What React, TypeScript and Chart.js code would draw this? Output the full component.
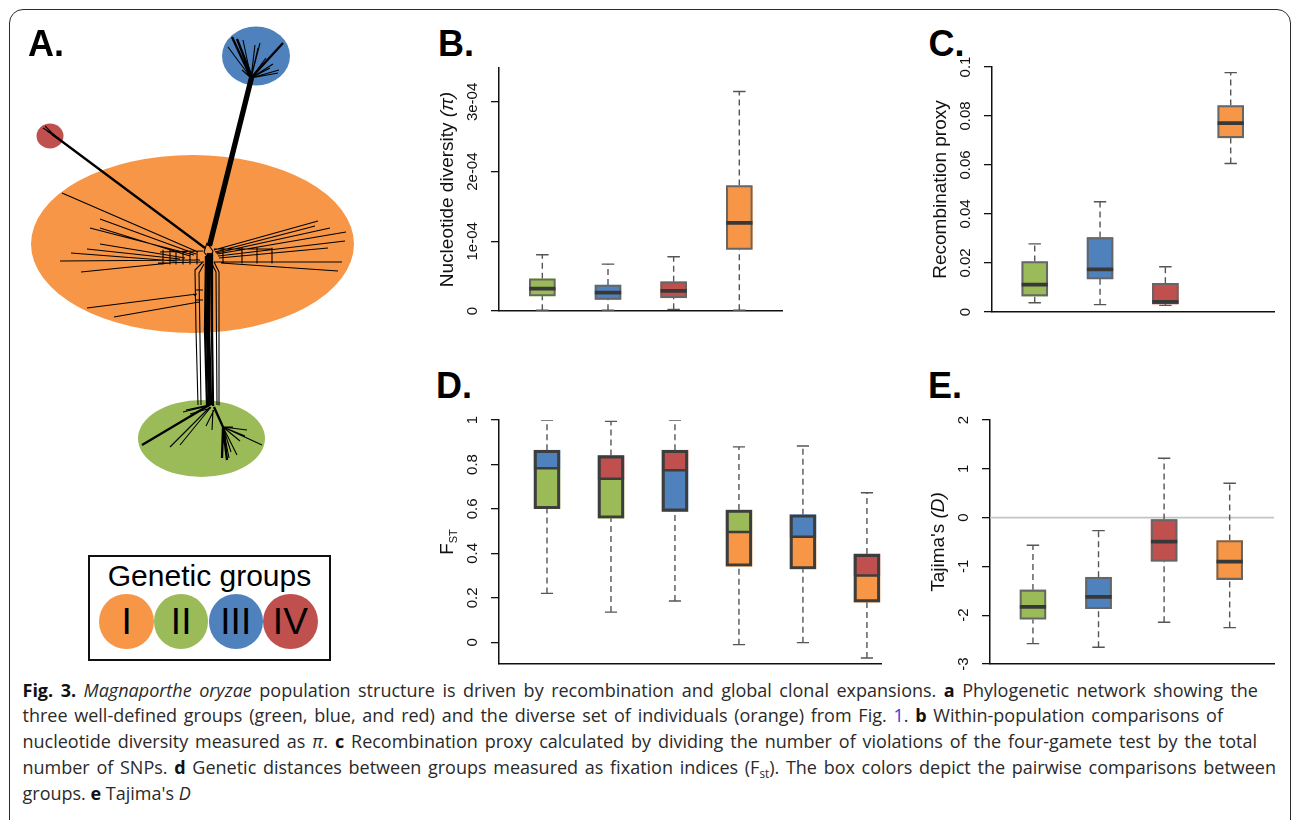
import React, { useEffect, useLayoutEffect, useRef } from 'react';
import { Chart, registerables } from 'chart.js';

Chart.register(...registerables);

const SANS = '"Liberation Sans", Arial, Helvetica, sans-serif';
const CAPTION_FONT = '"Open Sans", "Noto Sans", sans-serif';
const AXIS_INK = '#111111';

const ORANGE = '#F79646';
const GREEN = '#9BBB59';
const BLUE = '#4F81BD';
const RED = '#C0504D';

// ---------- Panel B: nucleotide diversity (pi) ----------
const PI_COLORS = [GREEN, BLUE, RED, ORANGE];
const PI_LOW = [1e-6, 1e-6, 2.4e-6, 1e-6];
const PI_Q1 = [2.15e-5, 1.67e-5, 1.9e-5, 8.83e-5];
const PI_MED = [3.2e-5, 2.63e-5, 2.9e-5, 1.265e-4];
const PI_Q3 = [4.63e-5, 3.72e-5, 4.2e-5, 1.8e-4];
const PI_HIGH = [8.07e-5, 6.73e-5, 7.78e-5, 3.15e-4];
const PI_TICKS = [0, 1e-4, 2e-4, 3e-4];
const PI_TICK_LABELS = ['0', '1e-04', '2e-04', '3e-04'];
const PI_Y_RANGE: [number, number] = [0, 3.487e-4];

// ---------- Panel C: recombination proxy ----------
const REC_COLORS = [GREEN, BLUE, RED, ORANGE];
const REC_LOW = [0.0038, 0.003, 0.0027, 0.0606];
const REC_Q1 = [0.0065, 0.0135, 0.0033, 0.0711];
const REC_MED = [0.0112, 0.0174, 0.0041, 0.0771];
const REC_Q3 = [0.0206, 0.0304, 0.0117, 0.0843];
const REC_HIGH = [0.0278, 0.045, 0.0185, 0.0977];
const REC_TICKS = [0, 0.02, 0.04, 0.06, 0.08, 0.1];
const REC_TICK_LABELS = ['0', '0.02', '0.04', '0.06', '0.08', '0.1'];
const REC_Y_RANGE: [number, number] = [0, 0.1];

// ---------- Panel D: FST pairwise ----------
const FST_LOWER_COLORS = [GREEN, GREEN, BLUE, ORANGE, ORANGE, ORANGE];
const FST_UPPER_COLORS = [BLUE, RED, RED, GREEN, BLUE, RED];
const FST_LOW = [0.22, 0.136, 0.186, -0.0105, -0.0015, -0.0705];
const FST_Q1 = [0.601, 0.558, 0.589, 0.342, 0.33, 0.181];
const FST_MED = [0.783, 0.736, 0.774, 0.496, 0.475, 0.301];
const FST_Q3 = [0.864, 0.84, 0.864, 0.595, 0.574, 0.397];
const FST_HIGH = [1.0, 0.994, 1.0, 0.879, 0.883, 0.673];
const FST_TICKS = [0, 0.2, 0.4, 0.6, 0.8, 1];
const FST_TICK_LABELS = ['0', '0.2', '0.4', '0.6', '0.8', '1'];
const FST_Y_RANGE: [number, number] = [-0.0975, 1.0];

// ---------- Panel E: Tajima's D ----------
const TAJ_COLORS = [GREEN, BLUE, RED, ORANGE];
const TAJ_LOW = [-2.582, -2.657, -2.145, -2.254];
const TAJ_Q1 = [-2.083, -1.865, -0.895, -1.27];
const TAJ_MED = [-1.83, -1.626, -0.492, -0.902];
const TAJ_Q3 = [-1.482, -1.223, -0.041, -0.471];
const TAJ_HIGH = [-0.567, -0.266, 1.216, 0.704];
const TAJ_TICKS = [-3, -2, -1, 0, 1, 2];
const TAJ_TICK_LABELS = ['-3', '-2', '-1', '0', '1', '2'];
const TAJ_Y_RANGE: [number, number] = [-3, 2];

// ---------- Panel A: network (layout units) ----------
const NET_X_RANGE: [number, number] = [12, 402];
const NET_Y_RANGE: [number, number] = [12, 512];
const NET_ELLIPSES = [
  { cx: 192.5, cy: 244, rx: 161.5, ry: 89, color: ORANGE },
  { cx: 256, cy: 56, rx: 34, ry: 29.5, color: BLUE },
  { cx: 50, cy: 136, rx: 13.5, ry: 12.5, color: RED },
  { cx: 201.5, cy: 438.5, rx: 63.5, ry: 38.5, color: GREEN },
];
const NET_TRUNK_LINES = [
  [[209, 253], [208, 330], [210, 405]],
  [[209, 246], [251, 78]],
];
const NET_MAIN_LINES = [
  [[205, 248], [52, 134]],
  [[212, 254], [212, 330], [213, 406]],
  [[206, 256], [205, 330], [207, 405]],
  [[211, 404], [142, 445]],
  [[214, 407], [223, 427], [222, 458]],
  [[223, 427], [227, 460]],
  [[251, 78], [232, 37]],
  [[251, 78], [283, 43]],
  [[252, 77], [237, 39]],
  [[211, 246], [253, 78]],
];
const NET_BRANCH_LINES = [
  [[251, 78], [228, 47]], [[251, 78], [243, 40]], [[251, 78], [260, 43]], [[251, 78], [258, 48]],
  [[251, 78], [279, 70]], [[251, 78], [278, 73]], [[251, 78], [270, 68]], [[251, 78], [263, 63]],
  [[251, 78], [242, 70]], [[251, 78], [266, 58]], [[251, 78], [273, 64]], [[251, 78], [255, 45]],
  [[54, 135], [43, 128]], [[54, 135], [45, 126]], [[56, 137], [47, 131]],
  [[198, 252], [62, 193]], [[196, 254], [100, 219]], [[194, 255], [90, 228]], [[190, 256], [100, 228]],
  [[185, 258], [100, 244]], [[180, 259], [87, 249]], [[175, 261], [71, 253]], [[200, 260], [60, 261]],
  [[170, 263], [81, 272]], [[197, 294], [87, 308]], [[199, 302], [114, 317]],
  [[160, 252], [203, 251]], [[158, 263], [204, 262]], [[163, 250], [163, 264]], [[170, 250], [170, 264]],
  [[176, 251], [176, 264]], [[183, 251], [183, 264]], [[190, 251], [190, 264]], [[197, 251], [197, 264]],
  [[214, 250], [318, 221]], [[215, 252], [315, 226]], [[216, 253], [330, 228]], [[217, 254], [346, 232]],
  [[218, 256], [345, 241]], [[219, 258], [328, 248]], [[220, 262], [342, 262]], [[221, 263], [338, 271]],
  [[214, 249], [272, 249]], [[214, 262], [290, 262]], [[223, 248], [223, 263]], [[242, 248], [242, 263]],
  [[257, 248], [257, 263]], [[272, 248], [272, 263]],
  [[204, 252], [207, 243], [213, 251], [210, 260], [204, 252]],
  [[203, 262], [195, 270], [196, 330], [198, 405]],
  [[204, 264], [199, 273], [201, 405]],
  [[214, 262], [219, 272], [219, 405]],
  [[212, 264], [216, 272], [217, 405]],
  [[196, 290], [203, 290]], [[195, 300], [203, 300]], [[196, 296], [193, 294]],
  [[210, 407], [170, 447]], [[211, 407], [180, 445]], [[208, 406], [183, 412]], [[209, 405], [186, 410]],
  [[211, 408], [190, 414]], [[213, 410], [212, 430]], [[214, 410], [206, 426]],
  [[223, 427], [237, 455]], [[223, 427], [247, 430]], [[223, 427], [245, 436]], [[223, 427], [262, 445]],
  [[223, 427], [233, 427]], [[223, 427], [240, 441]], [[223, 427], [231, 452]], [[223, 427], [229, 458]],
];

const GROUP_LABELS = ['I', 'II', 'III', 'IV'];
const GROUP_COLORS = [ORANGE, GREEN, BLUE, RED];

const PANEL_LABELS = [
  { t: 'A.', x: 28, y: 56 },
  { t: 'B.', x: 438, y: 56.7 },
  { t: 'C.', x: 928.5, y: 56.7 },
  { t: 'D.', x: 436, y: 398 },
  { t: 'E.', x: 928, y: 398 },
];

type Seg = { t: string; b?: boolean; i?: boolean; sub?: boolean; link?: boolean };
const CAPTION_LINES: Seg[][] = [
  [{ t: 'Fig. 3.', b: true }, { t: ' ' }, { t: 'Magnaporthe oryzae', i: true }, { t: ' population structure is driven by recombination and global clonal expansions. ' }, { t: 'a', b: true }, { t: ' Phylogenetic network showing the' }],
  [{ t: 'three well-defined groups (green, blue, and red) and the diverse set of individuals (orange) from Fig. ' }, { t: '1', link: true }, { t: '. ' }, { t: 'b', b: true }, { t: ' Within-population comparisons of' }],
  [{ t: 'nucleotide diversity measured as ' }, { t: 'π', i: true }, { t: '. ' }, { t: 'c', b: true }, { t: ' Recombination proxy calculated by dividing the number of violations of the four-gamete test by the total' }],
  [{ t: 'number of SNPs. ' }, { t: 'd', b: true }, { t: ' Genetic distances between groups measured as fixation indices (F' }, { t: 'st', sub: true }, { t: '). The box colors depict the pairwise comparisons between' }],
  [{ t: 'groups. ' }, { t: 'e', b: true }, { t: " Tajima's " }, { t: 'D', i: true }],
];
const CAPTION_LEFT = 22.5;
const CAPTION_RIGHT: (number | null)[] = [1258, 1223, 1257, 1276, null];
const CAPTION_BASELINES = [696.7, 722.3, 748.3, 774.3, 800];
const CAPTION_SIZE = 18;

type TitleSeg = { t: string; it?: boolean; sub?: boolean };

type Area = { left: number; top: number; right: number; bottom: number };

type BoxPanelProps = {
  area: Area;
  xRange: [number, number];
  yRange: [number, number];
  low: number[]; q1: number[]; med: number[]; q3: number[]; high: number[];
  lowerColors: string[]; upperColors: string[];
  ticks: number[]; tickLabels: string[];
  title: TitleSeg[];
  heavy?: boolean;
  zeroLine?: boolean;
};

const GAP = { x: NaN, y: NaN };
const PAD_L = 80, AXIS_W = 10, PAD_R = 10, PAD_T = 10, PAD_B = 10;

function BoxPanel(p: BoxPanelProps) {
  const ref = useRef<HTMLCanvasElement>(null);
  const cLeft = p.area.left - PAD_L - AXIS_W;
  const cTop = p.area.top - PAD_T;
  const cW = p.area.right - cLeft + PAD_R;
  const cH = p.area.bottom - cTop + PAD_B;

  useEffect(() => {
    if (!ref.current) return;
    const pos = p.low.map((_, i) => i + 1);
    const halfBox = 0.2;
    const capHalf = 0.095;
    const outline = p.heavy ? '#3d3d3d' : '#666666';
    const outlineW = p.heavy ? 2.5 : 1.4;

    const whiskers: any[] = [];
    const caps: any[] = [];
    const medians: any[] = [];
    pos.forEach((x, i) => {
      whiskers.push({ x, y: p.q3[i] }, { x, y: p.high[i] }, GAP, { x, y: p.low[i] }, { x, y: p.q1[i] }, GAP);
      caps.push({ x: x - capHalf, y: p.high[i] }, { x: x + capHalf, y: p.high[i] }, GAP,
        { x: x - capHalf, y: p.low[i] }, { x: x + capHalf, y: p.low[i] }, GAP);
      medians.push({ x: x - halfBox, y: p.med[i] }, { x: x + halfBox, y: p.med[i] }, GAP);
    });

    const datasets: any[] = [
      { type: 'line', data: whiskers, borderColor: '#555555', borderWidth: 1.4, borderDash: [6, 4], pointRadius: 0, spanGaps: false, order: 8 },
      { type: 'line', data: caps, borderColor: '#555555', borderWidth: 1.4, pointRadius: 0, spanGaps: false, order: 7 },
      { type: 'bar', data: pos.map((x, i) => ({ x, y: [p.q1[i], p.med[i]] })), backgroundColor: p.lowerColors, borderWidth: 0, barThickness: 26, grouped: false, order: 5 },
      { type: 'bar', data: pos.map((x, i) => ({ x, y: [p.med[i], p.q3[i]] })), backgroundColor: p.upperColors, borderWidth: 0, barThickness: 26, grouped: false, order: 4 },
      { type: 'bar', data: pos.map((x, i) => ({ x, y: [p.q1[i], p.q3[i]] })), backgroundColor: 'rgba(0,0,0,0)', borderColor: outline, borderWidth: outlineW, borderSkipped: false, barThickness: 26, grouped: false, order: 3 },
      { type: 'line', data: medians, borderColor: p.heavy ? '#3d3d3d' : '#383838', borderWidth: p.heavy ? 2.5 : 3.8, borderCapStyle: 'butt', pointRadius: 0, spanGaps: false, order: 1 },
    ];
    if (p.zeroLine) {
      datasets.push({ type: 'line', data: [{ x: p.xRange[0], y: 0 }, { x: p.xRange[1], y: 0 }], borderColor: '#c4c4c4', borderWidth: 1.6, pointRadius: 0, order: 9 });
    }

    const labelPlugin = {
      id: 'axisText',
      afterDraw(chart: any) {
        const { ctx, chartArea, scales } = chart;
        const y = scales.y;
        ctx.save();
        ctx.fillStyle = AXIS_INK;
        ctx.textAlign = 'center';
        ctx.textBaseline = 'alphabetic';
        ctx.font = `15px ${SANS}`;
        p.ticks.forEach((v, i) => {
          ctx.save();
          ctx.translate(chartArea.left - 22, y.getPixelForValue(v));
          ctx.rotate(-Math.PI / 2);
          ctx.fillText(p.tickLabels[i], 0, 0);
          ctx.restore();
        });
        const fontFor = (s: TitleSeg) => `${s.it ? 'italic ' : ''}${s.sub ? 11 : 19}px ${SANS}`;
        let total = 0;
        const widths = p.title.map((s) => {
          ctx.font = fontFor(s);
          const w = ctx.measureText(s.t).width;
          total += w;
          return w;
        });
        ctx.translate(chartArea.left - 46, (chartArea.top + chartArea.bottom) / 2);
        ctx.rotate(-Math.PI / 2);
        ctx.textAlign = 'left';
        let px = -total / 2;
        p.title.forEach((s, i) => {
          ctx.font = fontFor(s);
          ctx.fillText(s.t, px, s.sub ? 4 : 0);
          px += widths[i];
        });
        ctx.restore();
      },
    };

    const chart = new Chart(ref.current, {
      type: 'bar',
      data: { datasets },
      options: {
        responsive: false,
        animation: false,
        events: [],
        layout: { padding: { left: PAD_L, right: PAD_R, top: PAD_T, bottom: PAD_B } },
        plugins: { legend: { display: false }, tooltip: { enabled: false }, title: { display: false } },
        scales: {
          x: {
            type: 'linear', min: p.xRange[0], max: p.xRange[1], offset: false,
            grid: { display: false, drawTicks: false },
            ticks: { display: false },
            border: { display: true, color: AXIS_INK, width: 1.5 },
            afterFit: (s: any) => { s.height = 0; },
          },
          y: {
            type: 'linear', min: p.yRange[0], max: p.yRange[1],
            grid: { display: true, drawOnChartArea: false, drawTicks: true, tickLength: 8, color: AXIS_INK, lineWidth: 1.3 },
            ticks: { display: false },
            border: { display: true, color: AXIS_INK, width: 1.5 },
            afterBuildTicks: (s: any) => { s.ticks = p.ticks.map((v) => ({ value: v })); },
            afterFit: (s: any) => { s.width = AXIS_W; },
          },
        },
      } as any,
      plugins: [labelPlugin],
    } as any);
    return () => chart.destroy();
  }, []);

  return (
    <canvas ref={ref} width={cW} height={cH}
      style={{ position: 'absolute', left: cLeft, top: cTop, width: cW, height: cH }} />
  );
}

function NetworkPanel() {
  const ref = useRef<HTMLCanvasElement>(null);
  const left = NET_X_RANGE[0], top = NET_Y_RANGE[0];
  const w = NET_X_RANGE[1] - NET_X_RANGE[0];
  const h = NET_Y_RANGE[1] - NET_Y_RANGE[0];
  useEffect(() => {
    if (!ref.current) return;
    const toPts = (lines: number[][][]) => {
      const pts: any[] = [];
      lines.forEach((l) => { l.forEach(([x, y]) => pts.push({ x, y })); pts.push(GAP); });
      return pts;
    };
    const ellipsePlugin = {
      id: 'groupEllipses',
      beforeDatasetsDraw(chart: any) {
        const { ctx, scales } = chart;
        const xs = scales.x, ys = scales.y;
        ctx.save();
        NET_ELLIPSES.forEach((e) => {
          const cx = xs.getPixelForValue(e.cx), cy = ys.getPixelForValue(e.cy);
          const rx = Math.abs(xs.getPixelForValue(e.cx + e.rx) - cx);
          const ry = Math.abs(ys.getPixelForValue(e.cy + e.ry) - cy);
          ctx.beginPath();
          ctx.ellipse(cx, cy, rx, ry, 0, 0, Math.PI * 2);
          ctx.fillStyle = e.color;
          ctx.fill();
        });
        ctx.restore();
      },
    };
    const lineDs = (lines: number[][][], width: number) => ({
      data: toPts(lines), borderColor: '#000', borderWidth: width, pointRadius: 0,
      spanGaps: false, tension: 0, borderJoinStyle: 'round', borderCapStyle: 'butt',
    });
    const chart = new Chart(ref.current, {
      type: 'line',
      data: { datasets: [lineDs(NET_BRANCH_LINES, 1.1), lineDs(NET_MAIN_LINES, 2.3), lineDs(NET_TRUNK_LINES, 4.5)] },
      options: {
        responsive: false,
        animation: false,
        events: [],
        layout: { padding: 0 },
        plugins: { legend: { display: false }, tooltip: { enabled: false } },
        scales: {
          x: { type: 'linear', display: false, min: NET_X_RANGE[0], max: NET_X_RANGE[1] },
          y: { type: 'linear', display: false, min: NET_Y_RANGE[0], max: NET_Y_RANGE[1], reverse: true },
        },
      } as any,
      plugins: [ellipsePlugin],
    } as any);
    return () => chart.destroy();
  }, []);
  return <canvas ref={ref} width={w} height={h} style={{ position: 'absolute', left, top, width: w, height: h }} />;
}

function GroupLegend() {
  return (
    <>
      <div style={{ position: 'absolute', left: 88, top: 555, width: 243, height: 106, border: '2px solid #111', boxSizing: 'border-box' }} />
      <div style={{ position: 'absolute', left: 88, top: 586.7 - 0.8465 * 30, width: 243, textAlign: 'center', font: `30px ${SANS}`, lineHeight: '30px', color: '#000' }}>Genetic groups</div>
      {GROUP_LABELS.map((g, k) => (
        <div key={g} style={{
          position: 'absolute', left: 99.3 + 54.6 * k, top: 594, width: 54.5, height: 55, borderRadius: '50%',
          background: GROUP_COLORS[k], display: 'flex', alignItems: 'center', justifyContent: 'center',
          font: `37px ${SANS}`, lineHeight: '37px', color: '#000',
        }}>{g}</div>
      ))}
    </>
  );
}

function Caption() {
  const refs = useRef<(HTMLSpanElement | null)[]>([]);
  useLayoutEffect(() => {
    CAPTION_LINES.forEach((_, i) => {
      const el = refs.current[i];
      const right = CAPTION_RIGHT[i];
      if (!el || right == null) return;
      el.style.wordSpacing = '0px';
      const w = el.getBoundingClientRect().width;
      const spaces = (el.textContent || '').split(' ').length - 1;
      if (spaces > 0) el.style.wordSpacing = `${(right - CAPTION_LEFT - w) / spaces}px`;
    });
  }, []);
  return (
    <>
      {CAPTION_LINES.map((segs, i) => (
        <span key={i} ref={(el) => { refs.current[i] = el; }} style={{
          position: 'absolute', left: CAPTION_LEFT, top: CAPTION_BASELINES[i] - 0.888 * CAPTION_SIZE,
          fontFamily: CAPTION_FONT, fontSize: CAPTION_SIZE, lineHeight: `${CAPTION_SIZE}px`,
          whiteSpace: 'pre', display: 'inline-block', color: '#2a2a2a',
        }}>
          {segs.map((s, j) => (
            <span key={j} style={{
              fontWeight: s.b ? 700 : 400,
              fontStyle: s.i ? 'italic' : 'normal',
              color: s.link ? '#3b3bd6' : s.b ? '#111' : undefined,
              fontSize: s.sub ? '0.65em' : undefined,
              verticalAlign: s.sub ? '-0.3em' : undefined,
              lineHeight: s.sub ? 0 : undefined,
            }}>{s.t}</span>
          ))}
        </span>
      ))}
    </>
  );
}

export default function App() {
  return (
    <div style={{ position: 'absolute', left: 0, top: 0, width: 1293, height: 820, overflow: 'hidden', background: '#fff' }}>
      <div style={{ position: 'absolute', left: 9, top: 9, width: 1282, height: 850, border: '1.5px solid #2b2b2b', borderRadius: 14, boxSizing: 'border-box' }} />
      <NetworkPanel />
      <GroupLegend />
      {PANEL_LABELS.map((l) => (
        <div key={l.t} style={{ position: 'absolute', left: l.x, top: l.y - 0.8465 * 36, font: `bold 36px ${SANS}`, lineHeight: '36px', color: '#000' }}>{l.t}</div>
      ))}
      <BoxPanel area={{ left: 499, top: 68, right: 782, bottom: 311 }} xRange={[0.34, 4.65]} yRange={PI_Y_RANGE}
        low={PI_LOW} q1={PI_Q1} med={PI_MED} q3={PI_Q3} high={PI_HIGH}
        lowerColors={PI_COLORS} upperColors={PI_COLORS} ticks={PI_TICKS} tickLabels={PI_TICK_LABELS}
        title={[{ t: 'Nucleotide diversity ' }, { t: '(π)', it: true }]} />
      <BoxPanel area={{ left: 992, top: 67, right: 1274, bottom: 312 }} xRange={[0.346, 4.663]} yRange={REC_Y_RANGE}
        low={REC_LOW} q1={REC_Q1} med={REC_MED} q3={REC_Q3} high={REC_HIGH}
        lowerColors={REC_COLORS} upperColors={REC_COLORS} ticks={REC_TICKS} tickLabels={REC_TICK_LABELS}
        title={[{ t: 'Recombination proxy' }]} />
      <BoxPanel area={{ left: 499, top: 420, right: 881, bottom: 664 }} xRange={[0.25, 6.22]} yRange={FST_Y_RANGE}
        low={FST_LOW} q1={FST_Q1} med={FST_MED} q3={FST_Q3} high={FST_HIGH}
        lowerColors={FST_LOWER_COLORS} upperColors={FST_UPPER_COLORS} ticks={FST_TICKS} tickLabels={FST_TICK_LABELS}
        title={[{ t: 'F' }, { t: 'ST', sub: true }]} heavy />
      <BoxPanel area={{ left: 990, top: 420, right: 1274, bottom: 664 }} xRange={[0.345, 4.676]} yRange={TAJ_Y_RANGE}
        low={TAJ_LOW} q1={TAJ_Q1} med={TAJ_MED} q3={TAJ_Q3} high={TAJ_HIGH}
        lowerColors={TAJ_COLORS} upperColors={TAJ_COLORS} ticks={TAJ_TICKS} tickLabels={TAJ_TICK_LABELS}
        title={[{ t: "Tajima's " }, { t: '(D)', it: true }]} zeroLine />
      <Caption />
    </div>
  );
}
